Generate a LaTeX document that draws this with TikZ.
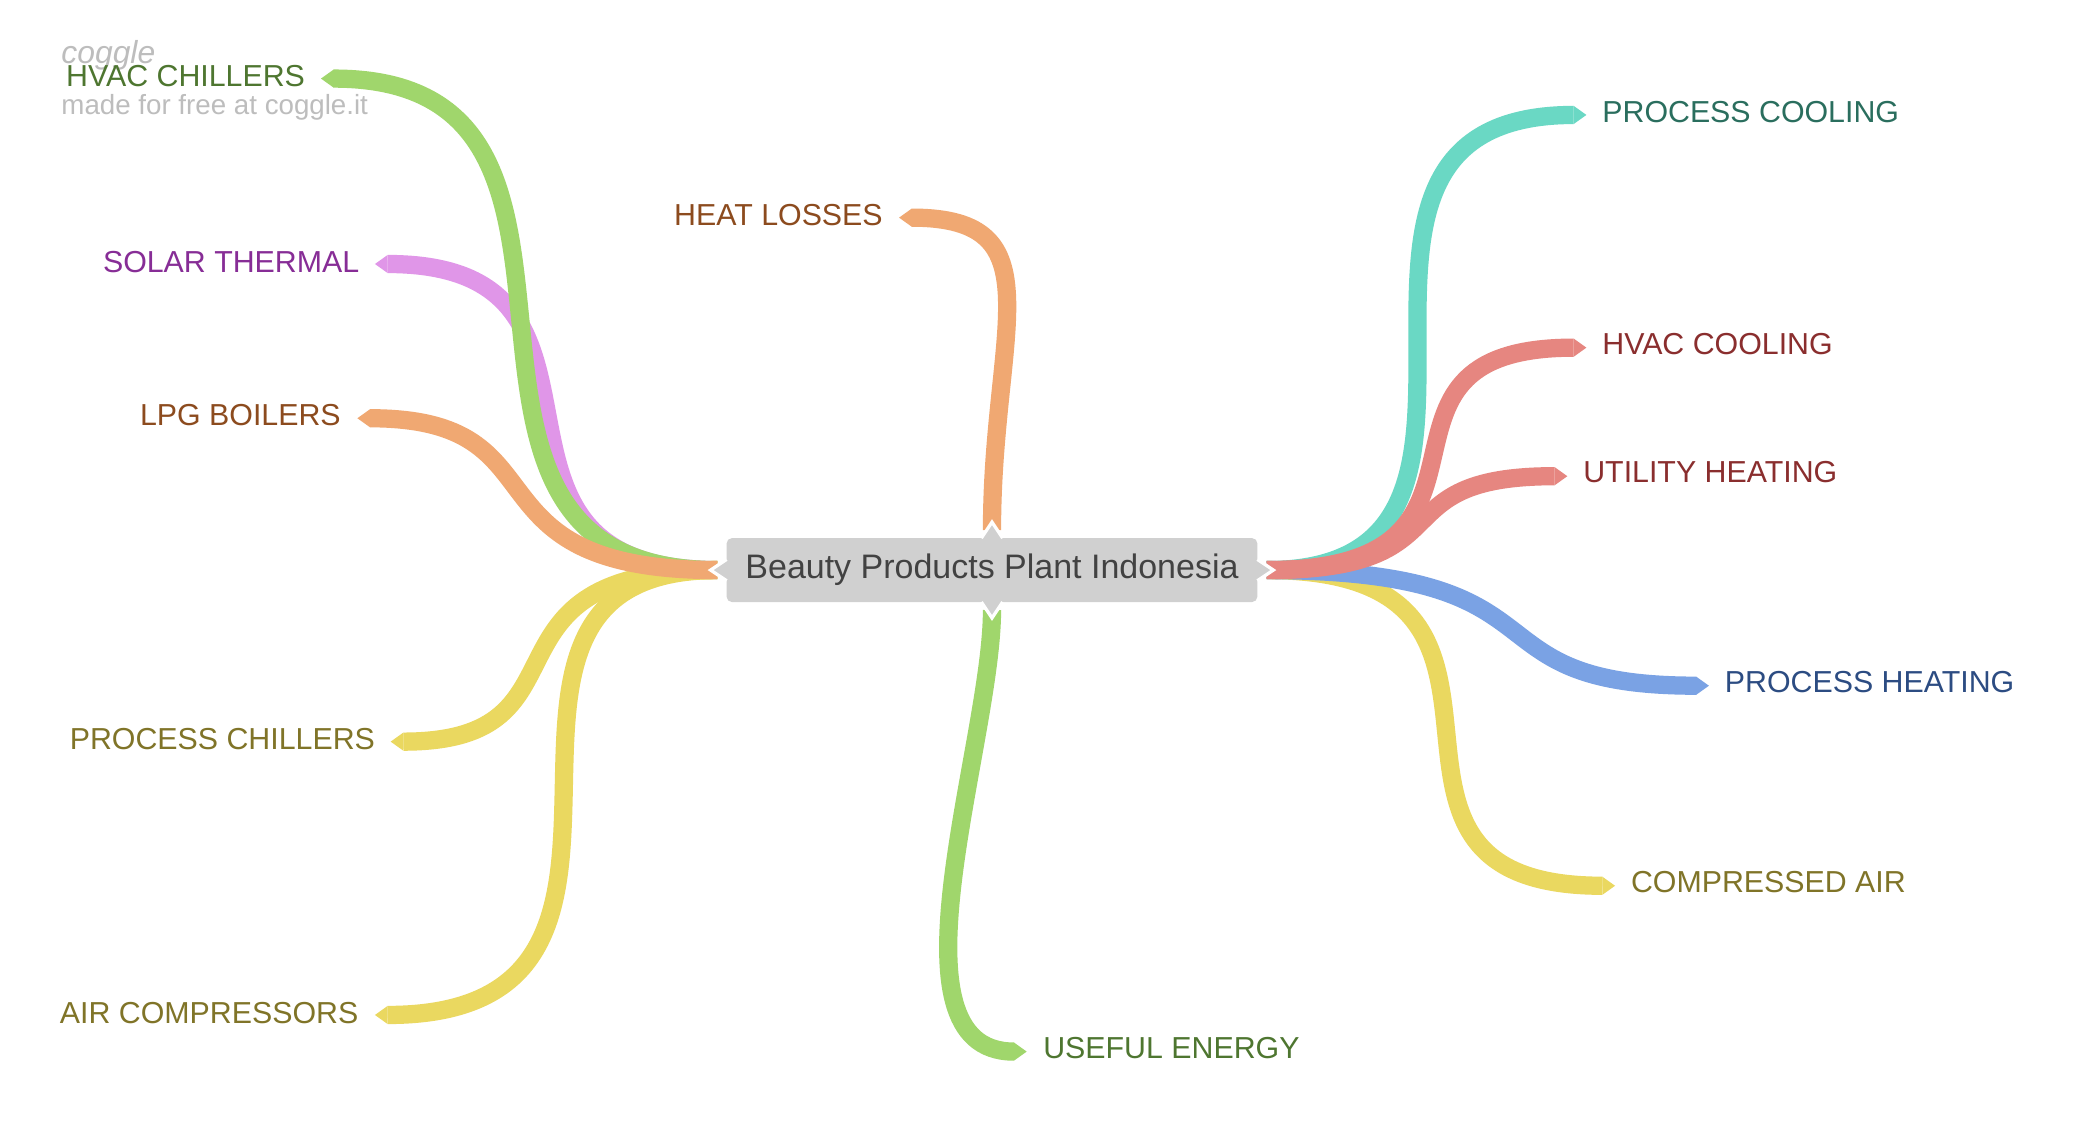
\documentclass[tikz,border=0pt]{standalone}
\usepackage{fontspec}
\setmainfont{Liberation Sans}
\usetikzlibrary{arrows.meta,backgrounds}
\definecolor{boxgray}{HTML}{D0D0D0}
\definecolor{centertext}{HTML}{424242}
\definecolor{logogray}{HTML}{BDBDBD}
\definecolor{wmgray}{HTML}{BDBDBD}
\definecolor{lnGreen}{HTML}{A0D66C}
\definecolor{txGreen}{HTML}{4E7630}
\definecolor{lnViolet}{HTML}{E096E8}
\definecolor{txViolet}{HTML}{872D96}
\definecolor{lnOrange}{HTML}{F0A872}
\definecolor{txOrange}{HTML}{8C4B1E}
\definecolor{lnYellow}{HTML}{EAD860}
\definecolor{txYellow}{HTML}{807428}
\definecolor{lnTeal}{HTML}{6AD8C4}
\definecolor{txTeal}{HTML}{2A6E5E}
\definecolor{lnRed}{HTML}{E68680}
\definecolor{txRed}{HTML}{8A2E2E}
\definecolor{lnBlue}{HTML}{7AA2E4}
\definecolor{txBlue}{HTML}{2C4C82}
\begin{document}
\begin{tikzpicture}[x=0.05cm, y=-0.05cm,
  branch/.style={line width=19.5pt, -{Triangle[length=0pt 0.7, width=0pt 1, line width=0pt]}},
  lbl/.style={inner sep=0pt, outer sep=0pt, font=\fontsize{32.4pt}{38pt}\selectfont},
  lblL/.style={lbl, anchor=base east},
  lblR/.style={lbl, anchor=base west},
  notchfill/.style={fill=boxgray},
  notchline/.style={draw=white, line width=3.5pt, line join=miter},
]
\useasboundingbox (0,0) rectangle (1560.1,852.9);

% central topic
\node[fill=boxgray, rounded corners=0.2cm, minimum width=19.925cm, minimum height=2.4cm,
      inner sep=0pt, outer sep=0pt, text=centertext,
      font=\fontsize{36.3pt}{42pt}\selectfont] (center) at (744.75,428) {Beauty Products Plant Indonesia};

% notches
\fill[notchfill] ([xshift=-0.4cm,yshift=-0.1cm]center.north) -- ([xshift=-0.4cm]center.north) -- ([yshift=0.6cm]center.north) -- ([xshift=0.4cm]center.north) -- ([xshift=0.4cm,yshift=-0.1cm]center.north) -- cycle;
\draw[notchline] ([xshift=-0.4cm]center.north) -- ([yshift=0.6cm]center.north) -- ([xshift=0.4cm]center.north);
\fill[notchfill] ([xshift=-0.4cm,yshift=0.1cm]center.south) -- ([xshift=-0.4cm]center.south) -- ([yshift=-0.6cm]center.south) -- ([xshift=0.4cm]center.south) -- ([xshift=0.4cm,yshift=0.1cm]center.south) -- cycle;
\draw[notchline] ([xshift=-0.4cm]center.south) -- ([yshift=-0.6cm]center.south) -- ([xshift=0.4cm]center.south);
\fill[notchfill] ([xshift=0.1cm,yshift=0.4cm]center.west) -- ([yshift=0.4cm]center.west) -- ([xshift=-0.6cm]center.west) -- ([yshift=-0.4cm]center.west) -- ([xshift=0.1cm,yshift=-0.4cm]center.west) -- cycle;
\draw[notchline] ([yshift=0.4cm]center.west) -- ([xshift=-0.6cm]center.west) -- ([yshift=-0.4cm]center.west);
\fill[notchfill] ([xshift=-0.1cm,yshift=0.4cm]center.east) -- ([yshift=0.4cm]center.east) -- ([xshift=0.6cm]center.east) -- ([yshift=-0.4cm]center.east) -- ([xshift=-0.1cm,yshift=-0.4cm]center.east) -- cycle;
\draw[notchline] ([yshift=0.4cm]center.east) -- ([xshift=0.6cm]center.east) -- ([yshift=-0.4cm]center.east);

% watermark
\node[anchor=base west, inner sep=0pt, text=logogray, font=\itshape\fontsize{34pt}{40pt}\selectfont] (logo) at (46,47.5) {coggle};
\node[anchor=base west, inner sep=0pt, text=wmgray, font=\fontsize{29.6pt}{35pt}\selectfont] (wm) at (46,86.2) {made for free at coggle.it};

% branch tips
\coordinate (tHC) at (241,59);
\coordinate (tST) at (281.5,198.2);
\coordinate (tLPG) at (268.3,314);
\coordinate (tPCh) at (293.3,556.8);
\coordinate (tAC) at (281.5,762);
\coordinate (tHL) at (675,163.4);
\coordinate (tUE) at (770.8,789.5);
\coordinate (tPC) at (1191,86.3);
\coordinate (tHV) at (1191,261);
\coordinate (tUH) at (1176.7,357.5);
\coordinate (tPH) at (1283,514.8);
\coordinate (tCA) at (1212.5,665);

% labels
\node[lblL, text=txGreen] (HC) at (229,64.6) {HVAC CHILLERS};
\node[lblL, text=txViolet] (ST) at (269.7,204.5) {SOLAR THERMAL};
\node[lblL, text=txOrange] (LPG) at (255.8,319.8) {LPG BOILERS};
\node[lblL, text=txYellow] (PCh) at (281.5,563) {PROCESS CHILLERS};
\node[lblL, text=txYellow] (AC) at (269,768.2) {AIR COMPRESSORS};
\node[lblL, text=txOrange] (HL) at (662.7,169.4) {HEAT LOSSES};
\node[lblR, text=txGreen] (UE) at (783.3,794.5) {USEFUL ENERGY};
\node[lblR, text=txTeal] (PC) at (1203,91.8) {PROCESS COOLING};
\node[lblR, text=txRed] (HV) at (1203,265.8) {HVAC COOLING};
\node[lblR, text=txRed] (UH) at (1188.7,362.6) {UTILITY HEATING};
\node[lblR, text=txBlue] (PH) at (1295,519.8) {PROCESS HEATING};
\node[lblR, text=txYellow] (CA) at (1224.5,669.9) {COMPRESSED AIR};

% connectors
\begin{scope}[on background layer]
\fill[white] (0,0) rectangle (1560.1,852.9);
\draw[branch, lnViolet] ([xshift=-0.35cm]center.west) .. controls +(-209,0) and +(209,0) .. (tST);
\draw[branch, lnGreen] ([xshift=-0.35cm]center.west) .. controls +(-256,0) and +(256,0) .. (tHC);
\draw[branch, lnYellow] ([xshift=-0.35cm]center.west) .. controls +(-229,0) and +(261,0) .. (tAC);
\draw[branch, lnYellow] ([xshift=-0.35cm]center.west) .. controls +(-190,0) and +(158,0) .. (tPCh);
\draw[branch, lnOrange] ([xshift=-0.35cm]center.west) .. controls +(-196,0) and +(160,0) .. (tLPG);
\draw[branch, lnOrange] ([yshift=0.3cm]center.north) .. controls +(0,-150) and +(120,0) .. (tHL);
\draw[branch, lnGreen] ([yshift=-0.3cm]center.south) .. controls +(0,100) and +(-110,0) .. (tUE);
\draw[branch, lnYellow] ([xshift=0.35cm]center.east) .. controls +(239,0) and +(-226,0) .. (tCA);
\draw[branch, lnBlue] ([xshift=0.35cm]center.east) .. controls +(236,0) and +(-189,0) .. (tPH);
\draw[branch, lnTeal] ([xshift=0.35cm]center.east) .. controls +(229,0) and +(-244,0) .. (tPC);
\draw[branch, lnRed] ([xshift=0.35cm]center.east) .. controls +(204,0) and +(-189,0) .. (tHV);
\draw[branch, lnRed] ([xshift=0.35cm]center.east) .. controls +(154,0) and +(-145,0) .. (tUH);
\end{scope}
\end{tikzpicture}
\end{document}
